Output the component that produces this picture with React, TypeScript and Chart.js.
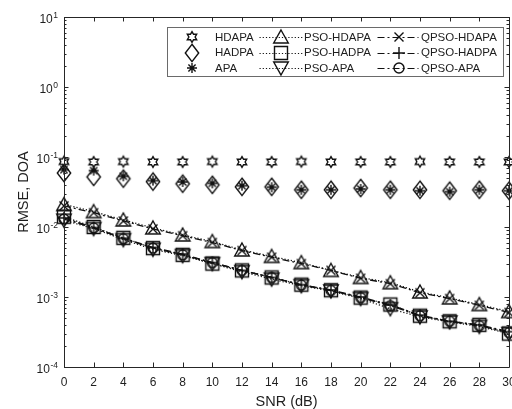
import React, { useEffect, useRef } from 'react';
import { Chart, registerables } from 'chart.js';

Chart.register(...registerables);

// ---------- data ----------
const snr = [0, 2, 4, 6, 8, 10, 12, 14, 16, 18, 20, 22, 24, 26, 28, 30];
const hdapa = [0.086, 0.085, 0.086, 0.085, 0.085, 0.086, 0.085, 0.085, 0.086, 0.085, 0.085, 0.085, 0.086, 0.085, 0.085, 0.085];
const hadpa = [0.059, 0.052, 0.049, 0.0445, 0.0415, 0.04, 0.0375, 0.0375, 0.034, 0.034, 0.036, 0.034, 0.034, 0.033, 0.034, 0.033];
const apa = [0.066, 0.064, 0.053, 0.046, 0.044, 0.042, 0.039, 0.037, 0.034, 0.034, 0.035, 0.034, 0.033, 0.032, 0.034, 0.033];
const psoHdapa = [0.021, 0.0166, 0.0126, 0.0097, 0.0077, 0.0062, 0.0047, 0.0038, 0.0031, 0.0024, 0.0019, 0.0016, 0.00118, 0.00097, 0.00078, 0.00062];
const psoHadpa = [0.014, 0.01, 0.007, 0.005, 0.004, 0.003, 0.0024, 0.0019, 0.0015, 0.00125, 0.00098, 0.00078, 0.00054, 0.00045, 0.0004, 0.0003];
const psoApa = [0.0125, 0.0095, 0.0066, 0.0048, 0.0039, 0.003, 0.0023, 0.0018, 0.00145, 0.00122, 0.00095, 0.00068, 0.00052, 0.00044, 0.00038, 0.0003];
const qpsoHdapa = [0.02, 0.016, 0.0122, 0.0094, 0.0075, 0.006, 0.0046, 0.0037, 0.003, 0.0024, 0.00185, 0.00155, 0.00115, 0.00095, 0.00076, 0.0006];
const qpsoHadpa = [0.0135, 0.0098, 0.0069, 0.0051, 0.0041, 0.0031, 0.0024, 0.0019, 0.0015, 0.00126, 0.001, 0.00077, 0.00055, 0.00045, 0.0004, 0.00032];
const qpsoApa = [0.013, 0.0097, 0.0068, 0.005, 0.004, 0.0031, 0.0024, 0.0019, 0.00148, 0.00124, 0.00098, 0.00075, 0.00054, 0.00045, 0.00039, 0.00031];

const seriesNames = ['HDAPA', 'HADPA', 'APA', 'PSO-HDAPA', 'PSO-HADPA', 'PSO-APA', 'QPSO-HDAPA', 'QPSO-HADPA', 'QPSO-APA'];
const seriesValues = [hdapa, hadpa, apa, psoHdapa, psoHadpa, psoApa, qpsoHdapa, qpsoHadpa, qpsoApa];
const seriesMarkers = ['hexagram', 'diamond', 'asterisk', 'triUp', 'square', 'triDown', 'x', 'plus', 'circle'];
const seriesLine = ['none', 'none', 'none', 'dot', 'dot', 'dot', 'dashdot', 'dashdot', 'dashdot'];
const yExponents = [-4, -3, -2, -1, 0, 1];
const xTitle = 'SNR (dB)';
const yTitle = 'RMSE, DOA';

const INK = '#1e1e1e';
const MARK = '#111111';
const FONT = '"Liberation Sans", Arial, Helvetica, sans-serif';
const DOT = [1.2, 2];
const DASHDOT = [7, 3, 2, 3];

function makeMarker(kind: string): HTMLCanvasElement {
  const S = 26;
  const c = document.createElement('canvas');
  c.width = S;
  c.height = S;
  const g = c.getContext('2d')!;
  g.strokeStyle = MARK;
  g.lineWidth = 1.4;
  g.lineJoin = 'miter';
  g.translate(S / 2, S / 2);
  g.beginPath();
  if (kind === 'hexagram') {
    const R = 5.4, r = R / Math.sqrt(3);
    for (let i = 0; i < 12; i++) {
      const a = -Math.PI / 2 + (i * Math.PI) / 6;
      const rr = i % 2 === 0 ? R : r;
      const px = Math.cos(a) * rr, py = Math.sin(a) * rr;
      if (i === 0) g.moveTo(px, py); else g.lineTo(px, py);
    }
    g.closePath();
  } else if (kind === 'diamond') {
    g.moveTo(0, -8.7); g.lineTo(6.7, 0); g.lineTo(0, 8.7); g.lineTo(-6.7, 0); g.closePath();
  } else if (kind === 'asterisk') {
    const a = 5, d = 3.6;
    g.moveTo(0, -a); g.lineTo(0, a);
    g.moveTo(-a, 0); g.lineTo(a, 0);
    g.moveTo(-d, -d); g.lineTo(d, d);
    g.moveTo(-d, d); g.lineTo(d, -d);
  } else if (kind === 'triUp') {
    g.moveTo(0, -7); g.lineTo(7.3, 6); g.lineTo(-7.3, 6); g.closePath();
  } else if (kind === 'triDown') {
    g.moveTo(0, 7); g.lineTo(7.3, -6); g.lineTo(-7.3, -6); g.closePath();
  } else if (kind === 'square') {
    g.rect(-6.5, -6.5, 13, 13);
  } else if (kind === 'x') {
    g.moveTo(-4.5, -4.5); g.lineTo(4.5, 4.5);
    g.moveTo(-4.5, 4.5); g.lineTo(4.5, -4.5);
  } else if (kind === 'plus') {
    g.moveTo(0, -6); g.lineTo(0, 6);
    g.moveTo(-6, 0); g.lineTo(6, 0);
  } else if (kind === 'circle') {
    g.arc(0, 0, 5, 0, Math.PI * 2);
  }
  g.stroke();
  return c;
}

export default function App() {
  const ref = useRef<HTMLCanvasElement | null>(null);

  useEffect(() => {
    const canvas = ref.current;
    if (!canvas) return;
    const markers = seriesMarkers.map(makeMarker);

    const datasets = seriesNames.map((name, i) => ({
      label: name,
      data: snr.map((x, j) => ({ x, y: seriesValues[i][j] })),
      showLine: seriesLine[i] !== 'none',
      borderColor: MARK,
      borderWidth: 1.3,
      borderDash: seriesLine[i] === 'dot' ? DOT : seriesLine[i] === 'dashdot' ? DASHDOT : [],
      pointStyle: markers[i] as any,
      pointRadius: 5,
      pointHoverRadius: 5,
      backgroundColor: 'transparent',
      pointBackgroundColor: 'transparent',
      pointBorderColor: MARK,
      tension: 0,
      clip: false as any,
    }));

    const framePlugin = {
      id: 'matlabFrame',
      afterDraw(chart: any) {
        const ctx = chart.ctx as CanvasRenderingContext2D;
        const { left, right, top, bottom } = chart.chartArea;
        const xs = chart.scales.x;
        const ys = chart.scales.y;
        ctx.save();
        // box
        ctx.strokeStyle = '#262626';
        ctx.lineWidth = 1;
        ctx.setLineDash([]);
        ctx.beginPath();
        ctx.rect(Math.round(left) + 0.5, Math.round(top) + 0.5, Math.round(right - left), Math.round(bottom - top));
        ctx.stroke();
        // x ticks (bottom & top, inward)
        ctx.beginPath();
        for (const v of snr) {
          const px = Math.round(xs.getPixelForValue(v)) + 0.5;
          ctx.moveTo(px, bottom); ctx.lineTo(px, bottom - 4.5);
          ctx.moveTo(px, top); ctx.lineTo(px, top + 4.5);
        }
        // y ticks major & minor (left & right, inward)
        for (let k = -4; k <= 1; k++) {
          const py = Math.round(ys.getPixelForValue(Math.pow(10, k))) + 0.5;
          ctx.moveTo(left, py); ctx.lineTo(left + 4.5, py);
          ctx.moveTo(right, py); ctx.lineTo(right - 4.5, py);
          if (k < 1) {
            for (let m = 2; m <= 9; m++) {
              const pm = Math.round(ys.getPixelForValue(m * Math.pow(10, k))) + 0.5;
              ctx.moveTo(left, pm); ctx.lineTo(left + 2.5, pm);
              ctx.moveTo(right, pm); ctx.lineTo(right - 2.5, pm);
            }
          }
        }
        ctx.stroke();
        // y tick labels 10^k
        ctx.fillStyle = INK;
        ctx.textBaseline = 'middle';
        ctx.textAlign = 'left';
        for (const k of yExponents) {
          const py = ys.getPixelForValue(Math.pow(10, k));
          const base = '10';
          const sup = String(k);
          ctx.font = `12px ${FONT}`;
          const bw = ctx.measureText(base).width;
          ctx.font = `8.5px ${FONT}`;
          const sw = ctx.measureText(sup).width;
          const x0 = left - 6.5 - sw - bw;
          ctx.font = `12px ${FONT}`;
          ctx.fillText(base, x0, py + 3);
          ctx.font = `8.5px ${FONT}`;
          ctx.fillText(sup, x0 + bw + 0.5, py - 1.5);
        }
        // legend
        const bx = left + 103.5, by = top + 10.5, bw2 = 336, bh = 49;
        ctx.fillStyle = '#ffffff';
        ctx.fillRect(bx, by, bw2, bh);
        ctx.strokeStyle = '#6a6a6a';
        ctx.strokeRect(bx, by, bw2, bh);
        const rowY = [by + 9.5, by + 25, by + 40.5];
        const colMarkX = [bx + 24.5, bx + 113.5, bx + 231];
        const colLine = [null, [bx + 92, bx + 135], [bx + 210, bx + 251]] as any[];
        const colTextX = [bx + 47.5, bx + 136.5, bx + 253.5];
        ctx.font = `11.5px ${FONT}`;
        ctx.textBaseline = 'middle';
        for (let col = 0; col < 3; col++) {
          for (let row = 0; row < 3; row++) {
            const idx = col * 3 + row;
            const y = rowY[row];
            if (colLine[col]) {
              ctx.save();
              ctx.strokeStyle = MARK;
              ctx.lineWidth = 1.2;
              ctx.setLineDash(col === 1 ? DOT : DASHDOT);
              ctx.beginPath();
              ctx.moveTo(colLine[col][0], Math.round(y) + 0.5);
              ctx.lineTo(colLine[col][1], Math.round(y) + 0.5);
              ctx.stroke();
              ctx.restore();
            }
            const mk = markers[idx];
            ctx.drawImage(mk, Math.round(colMarkX[col] - mk.width / 2), Math.round(y - mk.height / 2));
            ctx.fillStyle = INK;
            ctx.fillText(seriesNames[idx], colTextX[col], y + 0.5);
          }
        }
        ctx.restore();
      },
    };

    const chart = new Chart(canvas, {
      type: 'line',
      data: { datasets: datasets as any },
      options: {
        animation: false,
        responsive: false,
        devicePixelRatio: 1,
        layout: { autoPadding: false, padding: { left: 0, right: 3, top: 17, bottom: 0 } },
        plugins: { legend: { display: false }, tooltip: { enabled: false } },
        events: [],
        scales: {
          x: {
            type: 'linear',
            min: 0,
            max: 30,
            position: 'bottom',
            grid: { display: false, drawTicks: false },
            border: { display: false },
            ticks: {
              stepSize: 2,
              autoSkip: false,
              maxRotation: 0,
              padding: 8,
              color: INK,
              font: { family: FONT, size: 12 },
            },
            title: {
              display: true,
              text: xTitle,
              color: INK,
              font: { family: FONT, size: 14.5, lineHeight: 1 },
              padding: { top: 0, bottom: 0 },
            },
            afterFit: (s: any) => {
              s.height = 42;
              s.paddingLeft = 0;
              s.paddingRight = 0;
            },
          },
          y: {
            type: 'logarithmic',
            min: 1e-4,
            max: 10,
            grid: { display: false, drawTicks: false },
            border: { display: false },
            ticks: { callback: () => '', font: { family: FONT, size: 12 } },
            title: {
              display: true,
              text: yTitle,
              color: INK,
              font: { family: FONT, size: 14.5, lineHeight: 1 },
              padding: { top: 17, bottom: 0 },
            },
            afterFit: (s: any) => {
              s.width = 64;
              s.paddingTop = 0;
              s.paddingBottom = 0;
            },
          },
        },
      },
      plugins: [framePlugin],
    });
    return () => chart.destroy();
  }, []);

  return (
    <div style={{ position: 'fixed', left: 0, top: 0, width: 512, height: 409, background: '#fff' }}>
      <canvas ref={ref} width={512} height={409} style={{ display: 'block', width: 512, height: 409 }} />
    </div>
  );
}
